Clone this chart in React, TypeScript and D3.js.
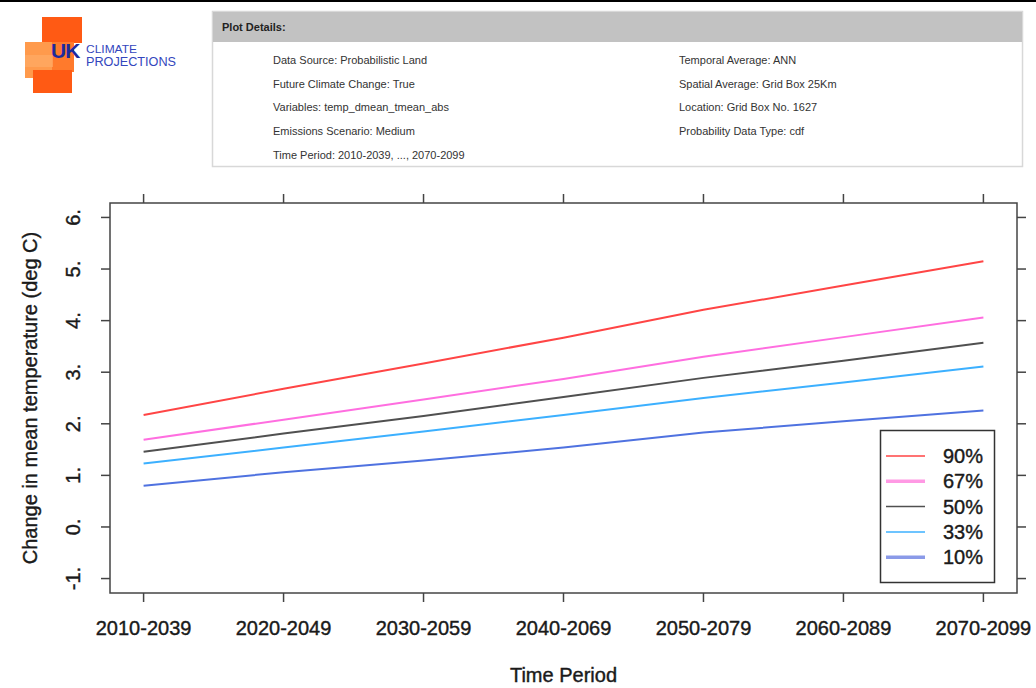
import React from "react";
import * as d3 from "d3";

const periods = ["2010-2039", "2020-2049", "2030-2059", "2040-2069", "2050-2079", "2060-2089", "2070-2099"];
const yTicks = [-1, 0, 1, 2, 3, 4, 5, 6];
const p90 = [2.17, 2.68, 3.17, 3.67, 4.21, 4.68, 5.15];
const p67 = [1.69, 2.08, 2.47, 2.87, 3.3, 3.68, 4.06];
const p50 = [1.46, 1.81, 2.15, 2.52, 2.89, 3.22, 3.57];
const p33 = [1.23, 1.54, 1.85, 2.17, 2.5, 2.8, 3.11];
const p10 = [0.8, 1.06, 1.29, 1.54, 1.83, 2.05, 2.26];
const seriesNames = ["90%", "67%", "50%", "33%", "10%"];
const seriesValues = [p90, p67, p50, p33, p10];
const seriesColors = ["#ff4545", "#ff6ee0", "#505050", "#3cb0ff", "#4f72e0"];
const legendColors = ["#ff4545", "#ff99e4", "#505050", "#3cb0ff", "#8a9ae8"];
const legendWidths = [1.5, 3.5, 1.5, 1.5, 3.5];

const detailsLeft = [
  "Data Source: Probabilistic Land",
  "Future Climate Change: True",
  "Variables: temp_dmean_tmean_abs",
  "Emissions Scenario: Medium",
  "Time Period: 2010-2039, ..., 2070-2099",
];
const detailsRight = [
  "Temporal Average: ANN",
  "Spatial Average: Grid Box 25Km",
  "Location: Grid Box No. 1627",
  "Probability Data Type: cdf",
];

const FONT = "'Liberation Sans', Arial, Helvetica, sans-serif";

export default function App() {
  const left = 110, right = 1017, top = 203, bottom = 593;
  const x = d3.scaleLinear().domain([-0.24, periods.length - 1 + 0.24]).range([left, right]);
  const y = d3.scaleLinear().domain([-1.28, 6.28]).range([bottom, top]);
  const line = d3.line<number>().x((_, i) => x(i)).y((d) => y(d));
  const tick = 9;
  const rowY = [64, 88, 111, 135, 159];

  return (
    <svg width={1036} height={688} style={{ position: "absolute", left: 0, top: 0, background: "#fff" }} fontFamily={FONT}>
      <rect x={0} y={0} width={1036} height={688} fill="#fff" />
      <line x1={0} x2={1036} y1={1} y2={1} stroke="#000" strokeWidth={2} />

      {/* Logo */}
      <g>
        <rect x={42} y={17} width={40} height={26} fill="#ff5a14" />
        <rect x={25} y={42} width={28} height={36} fill="#ff9a4c" />
        <rect x={52} y={42} width={22} height={30} fill="#ff7a2c" />
        <rect x={33} y={70} width={39} height={23} fill="#ff5a14" />
        <rect x={25} y={55} width={28} height={12} fill="#ffab66" opacity={0.7} />
        <text x={51} y={58} fontSize={21} fontWeight="bold" fill="#1e2a9c" letterSpacing={-1}>UK</text>
        <text x={86} y={53} fontSize={11} fill="#3346bd" textLength={51} lengthAdjust="spacingAndGlyphs">CLIMATE</text>
        <text x={86} y={66} fontSize={12} fill="#3346bd" textLength={90} lengthAdjust="spacingAndGlyphs">PROJECTIONS</text>
      </g>

      {/* Plot details box */}
      <g>
        <rect x={212.5} y={11.5} width={810} height={155} fill="#fff" stroke="#d8d8d8" strokeWidth={1.5} />
        <rect x={213} y={12} width={809} height={30} fill="#c2c2c2" />
        <text x={222} y={31} fontSize={11} fontWeight="bold" fill="#222">Plot Details:</text>
        {detailsLeft.map((t, i) => (
          <text key={t} x={273} y={rowY[i]} fontSize={11} fill="#333">{t}</text>
        ))}
        {detailsRight.map((t, i) => (
          <text key={t} x={679} y={rowY[i]} fontSize={11} fill="#333">{t}</text>
        ))}
      </g>

      {/* Series */}
      {seriesValues.map((vals, i) => (
        <path key={seriesNames[i]} d={line(vals) || ""} fill="none" stroke={seriesColors[i]} strokeWidth={2} />
      ))}

      {/* Frame */}
      <rect x={left} y={top} width={right - left} height={bottom - top} fill="none" stroke="#444" strokeWidth={1.5} />

      {/* X ticks */}
      {periods.map((p, i) => (
        <g key={p}>
          <line x1={x(i)} x2={x(i)} y1={bottom} y2={bottom + tick} stroke="#444" strokeWidth={1.5} />
          <line x1={x(i)} x2={x(i)} y1={top} y2={top - tick} stroke="#444" strokeWidth={1.5} />
          <text x={x(i)} y={635} textAnchor="middle" fontSize={20} fill="#1a1a1a" stroke="#1a1a1a" strokeWidth={0.4}>{p}</text>
        </g>
      ))}

      {/* Y ticks */}
      {yTicks.map((t) => (
        <g key={t}>
          <line x1={left} x2={left - tick} y1={y(t)} y2={y(t)} stroke="#444" strokeWidth={1.5} />
          <line x1={right} x2={right + tick} y1={y(t)} y2={y(t)} stroke="#444" strokeWidth={1.5} />
          <text transform={`translate(80,${y(t)}) rotate(-90)`} textAnchor="middle" fontSize={20} fill="#1a1a1a" stroke="#1a1a1a" strokeWidth={0.4}>{`${t}.`}</text>
        </g>
      ))}

      {/* Axis titles */}
      <text x={(left + right) / 2} y={682} textAnchor="middle" fontSize={20} fill="#1a1a1a" stroke="#1a1a1a" strokeWidth={0.4}>Time Period</text>
      <text transform={`translate(37,${(top + bottom) / 2}) rotate(-90)`} textAnchor="middle" fontSize={20} fill="#1a1a1a" stroke="#1a1a1a" strokeWidth={0.4}>Change in mean temperature (deg C)</text>

      {/* Legend */}
      <g>
        <rect x={880.5} y={430.5} width={114} height={152} fill="#fff" stroke="#333" strokeWidth={1.5} />
        {seriesNames.map((n, i) => {
          const ly = 456 + i * 25.3;
          return (
            <g key={n}>
              <line x1={886} x2={925} y1={ly} y2={ly} stroke={legendColors[i]} strokeWidth={legendWidths[i]} />
              <text x={983} y={ly + 7} textAnchor="end" fontSize={20} fill="#1a1a1a" stroke="#1a1a1a" strokeWidth={0.4}>{n}</text>
            </g>
          );
        })}
      </g>
    </svg>
  );
}
